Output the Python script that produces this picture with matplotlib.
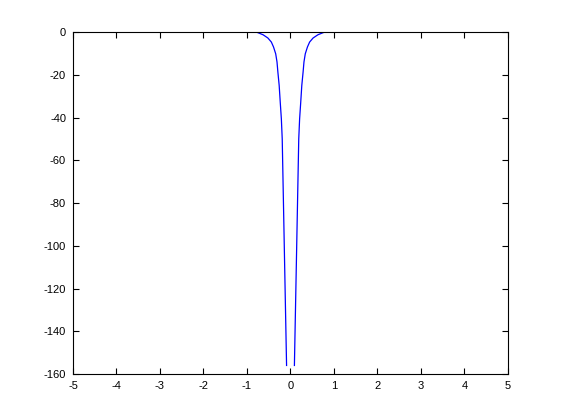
import numpy as np
import matplotlib
matplotlib.use('Agg')
import matplotlib.pyplot as plt

# values (left branch, gap at x=0, right branch)
x_left = [-5.0, -0.8, -0.75, -0.63, -0.52, -0.44, -0.39, -0.34, -0.31, -0.29,
          -0.26, -0.235, -0.21, -0.19, -0.09]
y_left = [0.0, 0.0, -0.3, -1.3, -2.8, -4.7, -7.0, -10.2, -14.0, -18.7,
          -25.0, -33.0, -40.6, -50.0, -156.0]
x_right = [0.09, 0.19, 0.21, 0.235, 0.26, 0.29, 0.31, 0.34, 0.39, 0.44,
           0.52, 0.63, 0.75, 0.8, 5.0]
y_right = [-156.0, -50.0, -40.6, -33.0, -25.0, -18.7, -14.0, -10.2, -7.0, -4.7,
           -2.8, -1.3, -0.3, 0.0, 0.0]

xticks = [-5, -4, -3, -2, -1, 0, 1, 2, 3, 4, 5]
yticks = [0, -20, -40, -60, -80, -100, -120, -140, -160]

plt.rcParams['font.family'] = ['Liberation Sans', 'DejaVu Sans']
plt.rcParams['font.size'] = 8

fig = plt.figure(figsize=(5.61, 4.2), dpi=100)
ax = fig.add_axes([0.1301, 0.1095, 0.7754, 0.8143])

x = x_left + [0.0] + x_right
y = y_left + [np.nan] + y_right
ax.plot(x, y, color='#0000ff', lw=0.9)

ax.set_xlim(-5, 5)
ax.set_ylim(-160, 0)
ax.set_xticks(xticks)
ax.set_yticks(yticks)
ax.set_xticklabels([str(t) for t in xticks])
ax.set_yticklabels([str(t) for t in yticks])
ax.tick_params(direction='in', length=4, width=0.8, top=True, right=True,
               pad=5, colors='black')
for s in ax.spines.values():
    s.set_linewidth(0.8)

fig.savefig('out.png', dpi=100)
